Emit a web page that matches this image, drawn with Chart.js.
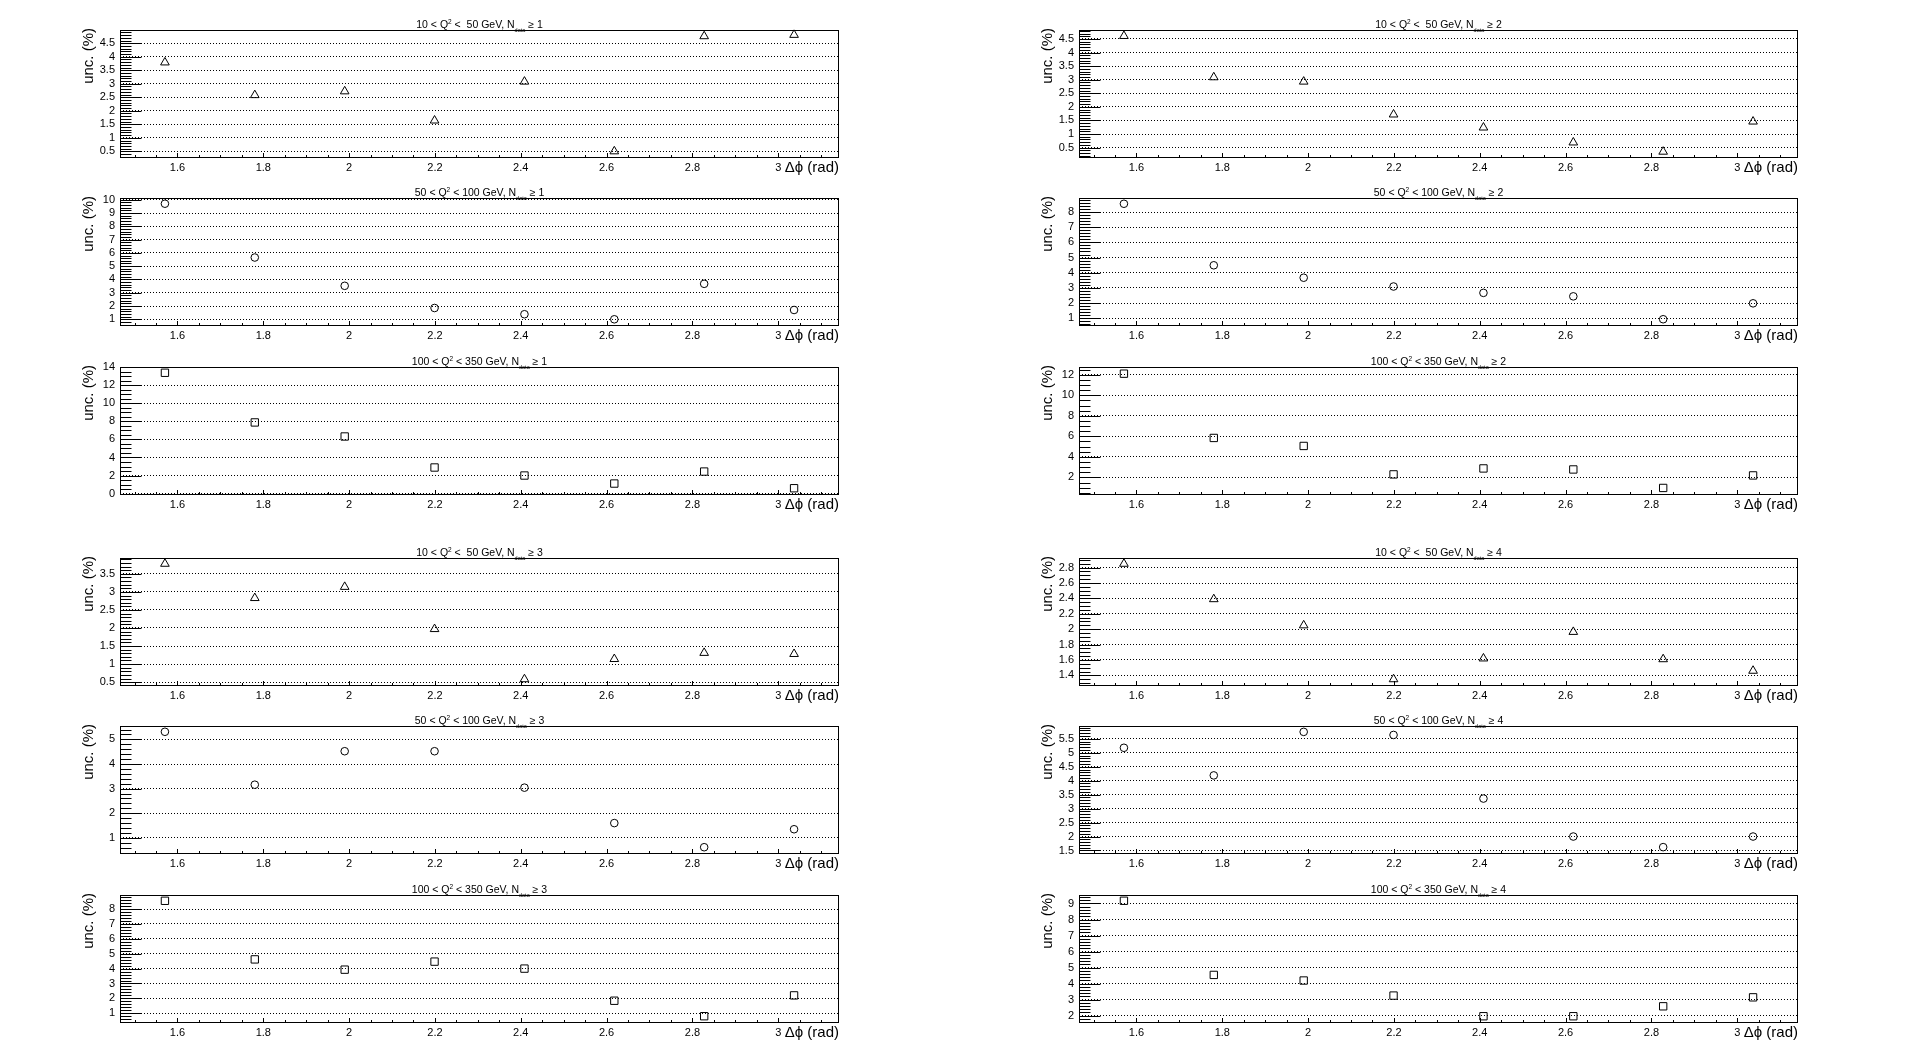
<!DOCTYPE html>
<html>
<head>
<meta charset="utf-8">
<script src="https://cdn.jsdelivr.net/npm/chart.js@4.4.1/dist/chart.umd.min.js"></script>
<style>
html, body { margin: 0; padding: 0; background: #fff; }
body { width: 1918px; height: 1054px; position: relative; overflow: hidden; }
canvas { position: absolute; }
</style>
</head>
<body>
<script>
// ---------------- data ----------------
const dphi = [1.5708, 1.7802, 1.9897, 2.1991, 2.4086, 2.6180, 2.8274, 3.0369];
const xTickLabels = ['1.6', '1.8', '2', '2.2', '2.4', '2.6', '2.8', '3'];

// N >= 1
const unc_q10_n1  = [3.79, 2.58, 2.72, 1.64, 3.08, 0.50, 4.76, 4.81];
const unc_q50_n1  = [9.70, 5.65, 3.52, 1.85, 1.38, 1.00, 3.67, 1.70];
const unc_q100_n1 = [13.40, 7.89, 6.33, 2.89, 2.00, 1.11, 2.44, 0.59];
// N >= 2
const unc_q10_n2  = [4.61, 3.09, 2.93, 1.72, 1.24, 0.69, 0.35, 1.46];
const unc_q50_n2  = [8.55, 4.49, 3.67, 3.09, 2.67, 2.44, 0.93, 1.98];
const unc_q100_n2 = [12.10, 5.84, 5.06, 2.29, 2.87, 2.77, 0.97, 2.19];
// N >= 3
const unc_q10_n3  = [3.78, 2.83, 3.14, 1.97, 0.58, 1.14, 1.31, 1.28];
const unc_q50_n3  = [5.31, 3.16, 4.52, 4.52, 3.04, 1.60, 0.62, 1.35];
const unc_q100_n3 = [8.56, 4.62, 3.93, 4.47, 4.00, 1.84, 0.80, 2.20];
// N >= 4
const unc_q10_n4  = [2.85, 2.39, 2.05, 1.35, 1.62, 1.965, 1.61, 1.46];
const unc_q50_n4  = [5.18, 4.19, 5.75, 5.64, 3.36, 2.00, 1.62, 2.00];
const unc_q100_n4 = [9.17, 4.54, 4.19, 3.25, 1.96, 1.96, 2.58, 3.14];

// title pieces
const q2Title = {
  q10:  ['10 < Q', '2', ' <  50 GeV, N'],
  q50:  ['50 < Q', '2', ' < 100 GeV, N'],
  q100: ['100 < Q', '2', ' < 350 GeV, N']
};
const nSub = 'data';
const yTitle = 'unc. (%)';
const xTitle = '\u0394\u03D5 (rad)';

// ---------------- panel setup ----------------
const FONT = '"Liberation Sans", Arial, Helvetica, sans-serif';
const colOff = [0, 959];
const frameTops = [30, 198, 367, 558, 726, 895];
const FRAME_H = 127, FRAME_W = 719, LEFT_W = 70, TOP_PAD = 28, BOT_H = 22, RIGHT_PAD = 12;
const X_MIN = 1.4661, X_MAX = 3.1416;

const panels = [
  {col:0,row:0,q:'q10', n:1,data:unc_q10_n1, marker:'triangle',r:5,  ymin:0.29, ymax:4.99, step:0.5, minor:0.1},
  {col:0,row:1,q:'q50', n:1,data:unc_q50_n1, marker:'circle',  r:3.8,ymin:0.57, ymax:10.13,step:1,   minor:0.2},
  {col:0,row:2,q:'q100',n:1,data:unc_q100_n1,marker:'rect',    r:5.2,ymin:-0.05,ymax:14.04,step:2,   minor:0.5},
  {col:1,row:0,q:'q10', n:2,data:unc_q10_n2, marker:'triangle',r:5,  ymin:0.155,ymax:4.83, step:0.5, minor:0.1},
  {col:1,row:1,q:'q50', n:2,data:unc_q50_n2, marker:'circle',  r:3.8,ymin:0.55, ymax:8.93, step:1,   minor:0.2},
  {col:1,row:2,q:'q100',n:2,data:unc_q100_n2,marker:'rect',    r:5.2,ymin:0.38, ymax:12.75,step:2,   minor:0.5},
  {col:0,row:3,q:'q10', n:3,data:unc_q10_n3, marker:'triangle',r:5,  ymin:0.42, ymax:3.94, step:0.5, minor:0.1},
  {col:0,row:4,q:'q50', n:3,data:unc_q50_n3, marker:'circle',  r:3.8,ymin:0.385,ymax:5.545,step:1,   minor:0.2},
  {col:0,row:5,q:'q100',n:3,data:unc_q100_n3,marker:'rect',    r:5.2,ymin:0.41, ymax:8.95, step:1,   minor:0.2},
  {col:1,row:3,q:'q10', n:4,data:unc_q10_n4, marker:'triangle',r:5,  ymin:1.275,ymax:2.925,step:0.2, minor:0.05},
  {col:1,row:4,q:'q50', n:4,data:unc_q50_n4, marker:'circle',  r:3.8,ymin:1.41, ymax:5.96, step:0.5, minor:0.1},
  {col:1,row:5,q:'q100',n:4,data:unc_q100_n4,marker:'rect',    r:5.2,ymin:1.6,  ymax:9.53, step:1,   minor:0.2}
];

const fmt = v => String(+(+v).toFixed(3));

const rootStyle = {
  id: 'rootStyle',
  afterDraw(chart, args, opts) {
    const p = opts.panel;
    if (!p) return;
    const {ctx, chartArea: a, scales: {x, y}} = chart;
    ctx.save();
    ctx.setLineDash([]);
    ctx.strokeStyle = '#000';
    ctx.lineWidth = 1;
    const L = Math.round(a.left), T = Math.round(a.top), R = Math.round(a.right), B = Math.round(a.bottom);
    ctx.strokeRect(L + 0.5, T + 0.5, R - L - 1, B - T);
    ctx.beginPath();
    // y ticks (inside frame)
    const k0 = Math.ceil(p.ymin / p.minor - 1e-6), k1 = Math.floor(p.ymax / p.minor + 1e-6);
    for (let k = k0; k <= k1; k++) {
      const v = k * p.minor;
      const r = v / p.step;
      const maj = Math.abs(r - Math.round(r)) < 1e-6;
      const py = Math.round(y.getPixelForValue(v)) + 0.5;
      ctx.moveTo(L + 0.5, py);
      ctx.lineTo(L + 0.5 + (maj ? 21 : 11), py);
    }
    // x ticks
    const xMinor = 0.05, xStep = 0.2;
    const j0 = Math.ceil(X_MIN / xMinor - 1e-6), j1 = Math.floor(X_MAX / xMinor + 1e-6);
    for (let j = j0; j <= j1; j++) {
      const v = j * xMinor;
      const r = v / xStep;
      const maj = Math.abs(r - Math.round(r)) < 1e-6;
      const px = Math.round(x.getPixelForValue(v)) + 0.5;
      ctx.moveTo(px, B);
      ctx.lineTo(px, B - (maj ? 4 : 2));
    }
    ctx.stroke();

    // title
    ctx.fillStyle = '#000';
    ctx.textBaseline = 'alphabetic';
    ctx.textAlign = 'left';
    const tp = q2Title[p.q];
    const parts = [
      {t: tp[0], s: 10.5, dy: 0},
      {t: tp[1], s: 6.5, dy: -4.5},
      {t: tp[2], s: 10.5, dy: 0},
      {t: nSub, s: 5.5, dy: 3.5},
      {t: ' \u2265 ' + p.n, s: 10.5, dy: 0}
    ];
    let tot = 0;
    for (const pt of parts) { ctx.font = pt.s + 'px ' + FONT; pt.w = ctx.measureText(pt.t).width; tot += pt.w; }
    let cx = (L + R) / 2 - tot / 2;
    const base = T - 2;
    for (const pt of parts) { ctx.font = pt.s + 'px ' + FONT; ctx.fillText(pt.t, cx, base + pt.dy); cx += pt.w; }

    // y title
    ctx.save();
    ctx.translate(L - 31, T - 2);
    ctx.rotate(-Math.PI / 2);
    ctx.font = '15px ' + FONT;
    ctx.textAlign = 'right';
    ctx.textBaseline = 'middle';
    ctx.fillText(yTitle, 0, 0);
    ctx.restore();

    // x title
    ctx.font = '15px ' + FONT;
    ctx.textAlign = 'right';
    ctx.textBaseline = 'middle';
    ctx.fillText(xTitle, R, B + 11);
    ctx.restore();
  }
};

for (const p of panels) {
  const cv = document.createElement('canvas');
  const left = colOff[p.col] + 120 - LEFT_W;
  const top = frameTops[p.row] - TOP_PAD;
  const W = LEFT_W + FRAME_W + RIGHT_PAD;
  const H = TOP_PAD + FRAME_H + BOT_H;
  cv.width = W; cv.height = H;
  cv.style.left = left + 'px'; cv.style.top = top + 'px';
  cv.style.width = W + 'px'; cv.style.height = H + 'px';
  document.body.appendChild(cv);

  new Chart(cv, {
    type: 'scatter',
    data: {
      datasets: [{
        data: dphi.map((xv, i) => ({x: xv, y: p.data[i]})),
        pointStyle: p.marker,
        pointRadius: p.r,
        pointHoverRadius: p.r,
        pointBorderWidth: 1,
        borderColor: '#000',
        backgroundColor: 'rgba(0,0,0,0)',
        showLine: false,
        clip: false
      }]
    },
    options: {
      responsive: false,
      animation: false,
      devicePixelRatio: 1,
      events: [],
      layout: {padding: {left: 0, right: RIGHT_PAD, top: TOP_PAD, bottom: 0}},
      plugins: {
        legend: {display: false},
        tooltip: {enabled: false},
        rootStyle: {panel: p}
      },
      scales: {
        x: {
          type: 'linear',
          min: X_MIN, max: X_MAX,
          afterFit: s => { s.height = BOT_H; },
          grid: {display: false, drawTicks: false},
          border: {display: false},
          ticks: {
            stepSize: 0.2,
            includeBounds: false,
            autoSkip: false,
            maxRotation: 0, minRotation: 0,
            padding: 4,
            color: '#000',
            font: {family: FONT, size: 11},
            callback: (v) => {
              const i = Math.round((v - 1.6) / 0.2);
              return (i >= 0 && i < xTickLabels.length) ? xTickLabels[i] : fmt(v);
            }
          }
        },
        y: {
          type: 'linear',
          min: p.ymin, max: p.ymax,
          afterFit: s => { s.width = LEFT_W; },
          grid: {display: true, drawOnChartArea: true, drawTicks: false, color: '#000', lineWidth: 1},
          border: {display: false, dash: [1, 2]},
          ticks: {
            stepSize: p.step,
            includeBounds: false,
            autoSkip: false,
            padding: 5,
            color: '#000',
            font: {family: FONT, size: 11},
            callback: v => fmt(v)
          }
        }
      }
    },
    plugins: [rootStyle]
  });
}
</script>
</body>
</html>
